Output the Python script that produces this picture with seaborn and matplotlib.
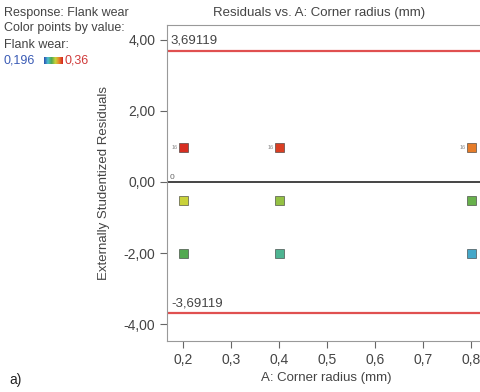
import numpy as np
import pandas as pd
import matplotlib
matplotlib.use("Agg")
import matplotlib.pyplot as plt
import seaborn as sns
from matplotlib.colors import LinearSegmentedColormap
from matplotlib.ticker import FuncFormatter

# data
corner_radius = [0.2, 0.2, 0.2, 0.4, 0.4, 0.4, 0.8, 0.8, 0.8]
residuals = [0.98, -0.53, -2.02, 0.96, -0.53, -2.02, 0.98, -0.53, -2.02]
flank_wear = [0.355, 0.295, 0.262, 0.350, 0.280, 0.245, 0.330, 0.268, 0.222]
limit = 3.69119
wear_min, wear_max = 0.196, 0.36

df = pd.DataFrame({"r": corner_radius, "res": residuals, "wear": flank_wear})

sns.set_theme(style="white")
plt.rcParams["font.family"] = ["Liberation Sans", "DejaVu Sans"]

cmap = LinearSegmentedColormap.from_list(
    "de", ["#2b4fb0", "#4cc0d0", "#50a850", "#c8d43a", "#e8862a", "#d42020"])

fig = plt.figure(figsize=(4.8, 3.92), dpi=100)
ax = fig.add_axes([0.348, 0.130, 0.66, 0.806])

txt = "#444444"
ax.axhline(limit, color="#e05050", lw=1.6, zorder=1)
ax.axhline(-limit, color="#e05050", lw=1.6, zorder=1)
ax.axhline(0, color="#444444", lw=1.4, zorder=1)

sns.scatterplot(data=df, x="r", y="res", hue="wear", palette=cmap,
                hue_norm=(wear_min, wear_max), marker="s", s=40,
                edgecolor="#333333", linewidth=0.4, legend=False, ax=ax, zorder=3)

# point labels
for x, y in zip(corner_radius, residuals):
    if y > 0:
        ax.text(x - 0.012, y, "16", fontsize=4, color="#888888", ha="right", va="center")
ax.text(0.172, 0.02, "0", fontsize=6, color="#666666", ha="left", va="bottom")
ax.text(0.174, limit + 0.12, "3,69119", fontsize=9.5, color=txt, ha="left", va="bottom")
ax.text(0.174, -limit + 0.12, "-3,69119", fontsize=9.5, color=txt, ha="left", va="bottom")

ax.set_xlim(0.166, 0.826)
ax.set_ylim(-4.47, 4.41)
ax.set_xticks([0.2, 0.3, 0.4, 0.5, 0.6, 0.7, 0.8])
ax.set_yticks([-4, -2, 0, 2, 4])
ax.xaxis.set_major_formatter(FuncFormatter(lambda v, p: f"{v:.1f}".replace(".", ",")))
ax.yaxis.set_major_formatter(FuncFormatter(lambda v, p: f"{v:.2f}".replace(".", ",")))
ax.tick_params(axis="both", direction="out", length=5, width=0.8, color="#666666",
               labelcolor=txt, labelsize=10, left=True, bottom=True)
for s in ax.spines.values():
    s.set_color("#999999")
    s.set_linewidth(0.8)

ax.set_xlabel("")
ax.set_ylabel("Externally Studentized Residuals", fontsize=9.5, color=txt, labelpad=10)

fig.text(0.665, 0.968, "Residuals vs. A: Corner radius (mm)", fontsize=9.5, color=txt,
         ha="center", va="center")
fig.text(0.68, 0.036, "A: Corner radius (mm)", fontsize=9.5, color=txt,
         ha="center", va="center")

# colour legend
fig.text(0.008, 0.968, "Response: Flank wear", fontsize=9, color=txt, va="center")
fig.text(0.008, 0.928, "Color points by value:", fontsize=9, color=txt, va="center")
fig.text(0.008, 0.886, "Flank wear:", fontsize=9, color=txt, va="center")
fig.text(0.008, 0.845, "0,196", fontsize=9, color="#3a5bb5", va="center")
fig.text(0.134, 0.845, "0,36", fontsize=9, color="#d03a3a", va="center")
cax = fig.add_axes([0.092, 0.837, 0.038, 0.017])
cax.imshow(np.linspace(0, 1, 64)[None, :], aspect="auto", cmap=cmap)
cax.set_axis_off()

fig.text(0.02, 0.03, "a)", fontsize=10, color="#222222", va="center")

plt.savefig("out.png", dpi=100)
